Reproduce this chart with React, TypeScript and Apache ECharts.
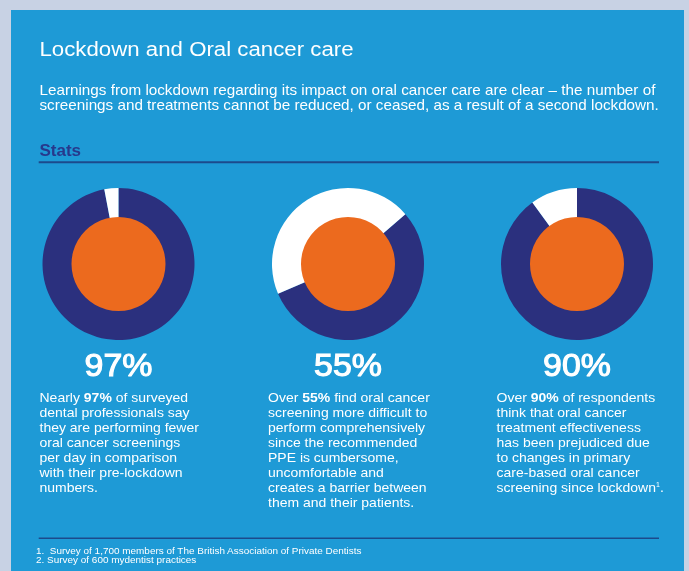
import React, { useEffect, useRef } from "react";
import * as echarts from "echarts";

const titleText = "Lockdown and Oral cancer care";
const subtitleLines = [
  "Learnings from lockdown regarding its impact on oral cancer care are clear – the number of",
  "screenings and treatments cannot be reduced, or ceased, as a result of a second lockdown.",
];
const sectionLabel = "Stats";
const statValues = [97, 55, 90];
const statLabels = ["97%", "55%", "90%"];
const statStartAngles = [90, 41, 90];
const statTexts = [
  [
    "Nearly {b|97%} of surveyed",
    "dental professionals say",
    "they are performing fewer",
    "oral cancer screenings",
    "per day in comparison",
    "with their pre-lockdown",
    "numbers.",
  ],
  [
    "Over {b|55%} find oral cancer",
    "screening more difficult to",
    "perform comprehensively",
    "since the recommended",
    "PPE is cumbersome,",
    "uncomfortable and",
    "creates a barrier between",
    "them and their patients.",
  ],
  [
    "Over {b|90%} of respondents",
    "think that oral cancer",
    "treatment effectiveness",
    "has been prejudiced due",
    "to changes in primary",
    "care-based oral cancer",
    "screening since lockdown{sup|1}.",
  ],
];
const footnotes = [
  "1.  Survey of 1,700 members of The British Association of Private Dentists",
  "2. Survey of 600 mydentist practices",
];

const FONT = "'Liberation Sans', Arial, Helvetica, sans-serif";
const BG = "#c8d2e4";
const PANEL = "#1e9ad6";
const NAVY = "#2b307e";
const ORANGE = "#ec6a1e";
const RULE = "#1c4a8c";

const centersX = [118.5, 348, 577];
const centerY = 264;
const textCols = [39.5, 268, 496.5];

export default function App() {
  const ref = useRef<HTMLDivElement>(null);
  useEffect(() => {
    if (!ref.current) return;
    const chart = echarts.init(ref.current, undefined, { renderer: "svg" });

    const series: any[] = [];
    statValues.forEach((v, i) => {
      series.push({
        type: "pie",
        center: [centersX[i], centerY],
        radius: [45, 76],
        startAngle: statStartAngles[i],
        clockwise: true,
        silent: true,
        label: { show: false },
        labelLine: { show: false },
        emphasis: { disabled: true },
        itemStyle: { borderWidth: 0 },
        data: [
          { name: "Share", value: v, itemStyle: { color: NAVY } },
          { name: "Rest", value: 100 - v, itemStyle: { color: "#ffffff" } },
        ],
      });
      series.push({
        type: "pie",
        center: [centersX[i], centerY],
        radius: [0, 47],
        silent: true,
        label: { show: false },
        labelLine: { show: false },
        emphasis: { disabled: true },
        data: [{ name: "core", value: 1, itemStyle: { color: ORANGE } }],
      });
    });

    const txt = (extra: any) => ({
      fill: "#ffffff",
      fontFamily: FONT,
      align: "left",
      textAlign: "left",
      verticalAlign: "top",
      textVerticalAlign: "top",
      ...extra,
    });

    const graphics: any[] = [
      { type: "rect", z: -10, shape: { x: 0, y: 0, width: 689, height: 571 }, style: { fill: BG } },
      { type: "rect", z: -9, shape: { x: 11, y: 10, width: 673, height: 561 }, style: { fill: PANEL } },
      {
        type: "text",
        x: 39.5,
        y: 49,
        scaleX: 1.06,
        style: txt({ text: titleText, fontSize: 21, verticalAlign: "middle", textVerticalAlign: "middle" }),
      },
      {
        type: "text",
        x: 39.5,
        y: 82.3,
        scaleX: 1.09,
        style: txt({ text: subtitleLines.join("\n"), fontSize: 14, lineHeight: 15.5 }),
      },
      {
        type: "text",
        x: 39.5,
        y: 150,
        style: txt({
          text: sectionLabel,
          fill: "#27398c",
          fontSize: 17,
          fontWeight: "bold",
          verticalAlign: "middle",
          textVerticalAlign: "middle",
        }),
      },
      {
        type: "line",
        shape: { x1: 38.7, y1: 162.3, x2: 659, y2: 162.3 },
        style: { stroke: RULE, lineWidth: 2 },
      },
      {
        type: "line",
        shape: { x1: 38.7, y1: 538.3, x2: 659, y2: 538.3 },
        style: { stroke: RULE, lineWidth: 1.5 },
      },
      {
        type: "text",
        x: 36,
        y: 546.3,
        scaleX: 1.2,
        style: txt({ text: footnotes.join("\n"), fontSize: 8.3, lineHeight: 9.4 }),
      },
    ];

    statLabels.forEach((lab, i) => {
      graphics.push({
        type: "text",
        x: centersX[i],
        y: 364.7,
        scaleX: 1.06,
        style: txt({
          text: lab,
          fontSize: 32,
          fontWeight: "normal",
          stroke: "#ffffff",
          lineWidth: 1.1,
          align: "center",
          textAlign: "center",
          verticalAlign: "middle",
          textVerticalAlign: "middle",
        }),
      });
      graphics.push({
        type: "text",
        x: textCols[i],
        y: 390,
        scaleX: 1.077,
        style: txt({
          text: statTexts[i].join("\n"),
          fontSize: 13,
          lineHeight: 15,
          rich: {
            b: { fontSize: 13, fontWeight: "bold", fill: "#ffffff", lineHeight: 15, fontFamily: FONT },
            sup: {
              fontSize: 6.5,
              fill: "#ffffff",
              lineHeight: 15,
              verticalAlign: "top",
              fontFamily: FONT,
              padding: [1, 0, 0, 0],
            },
          },
        }),
      });
    });

    chart.setOption({
      animation: false,
      graphic: { elements: graphics },
      series,
    });
    return () => chart.dispose();
  }, []);
  return (
    <div
      ref={ref}
      style={{ position: "fixed", left: 0, top: 0, width: 689, height: 571 }}
    />
  );
}
